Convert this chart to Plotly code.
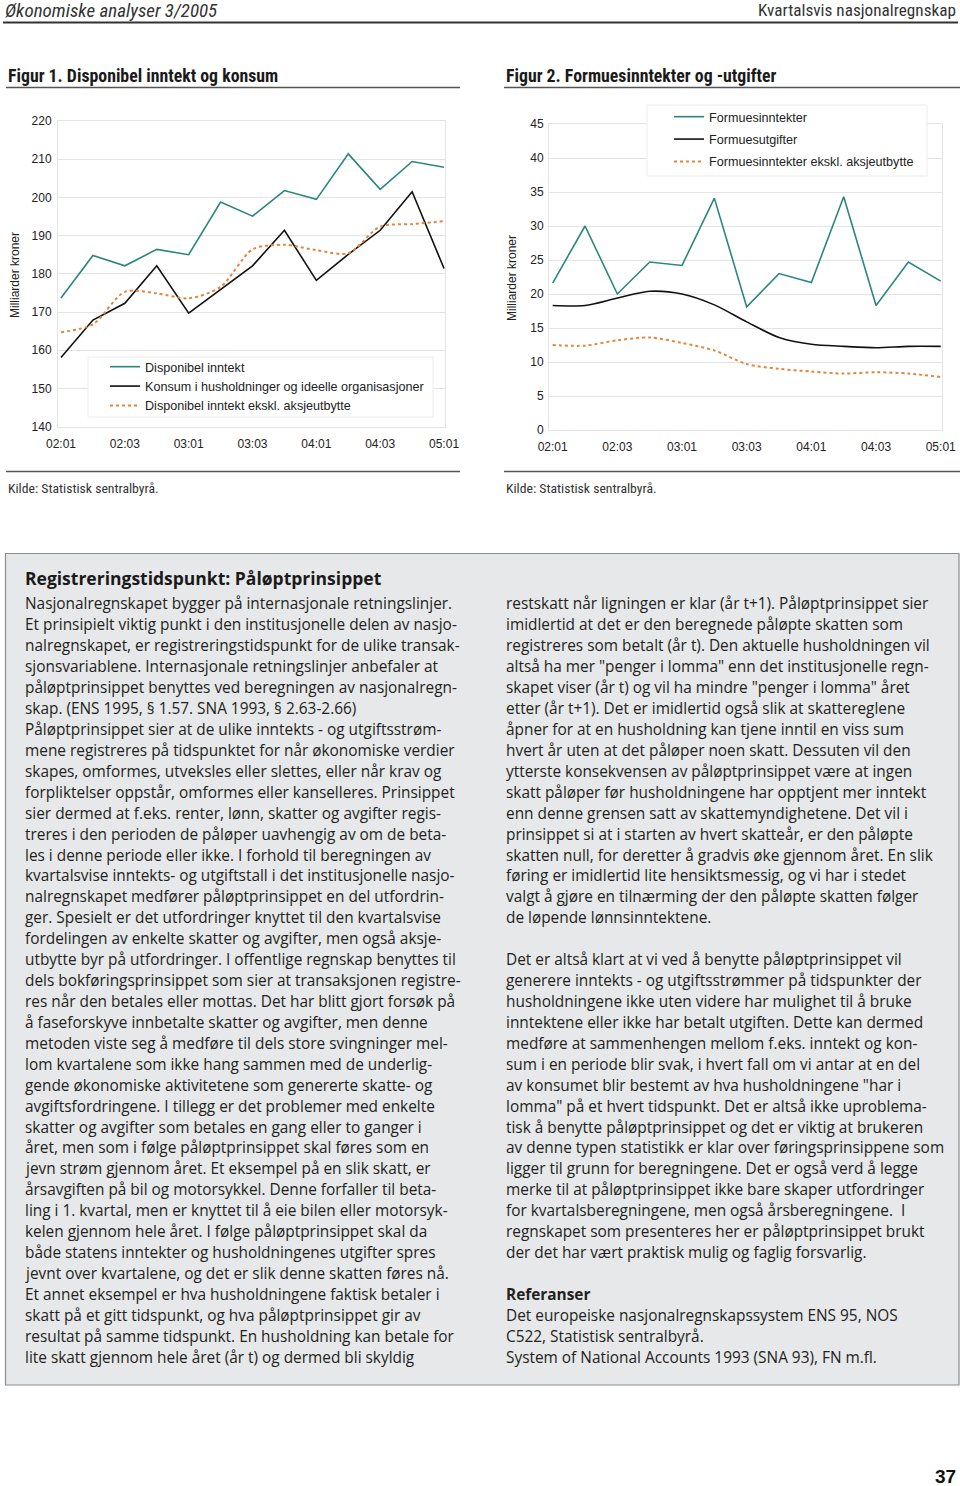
import plotly.graph_objects as go

# ---------------- data ----------------
quarters = ["02:01", "02:02", "02:03", "02:04", "03:01", "03:02", "03:03",
            "03:04", "04:01", "04:02", "04:03", "04:04", "05:01"]
tick_quarters = ["02:01", "02:03", "03:01", "03:03", "04:01", "04:03", "05:01"]

disp_inntekt = [173.7, 184.8, 182.1, 186.4, 185.0, 198.8, 195.1, 201.8, 199.5, 211.4, 202.1, 209.4, 207.9]
konsum = [158.1, 167.9, 172.3, 182.1, 169.7, 175.8, 182.1, 191.4, 178.3, 185.1, 191.4, 201.5, 181.4]
disp_ekskl = [164.7, 166.8, 175.3, 174.9, 173.6, 176.6, 186.4, 187.6, 186.2, 185.4, 192.4, 193.0, 193.8]

formues_inn = [21.6, 30.0, 20.0, 24.7, 24.2, 34.1, 18.1, 23.0, 21.7, 34.3, 18.3, 24.7, 21.9]
formues_utg = [18.3, 18.3, 19.4, 20.4, 20.0, 18.4, 15.9, 13.6, 12.6, 12.3, 12.1, 12.3, 12.3]
formues_ekskl = [12.5, 12.4, 13.2, 13.6, 12.8, 11.7, 9.7, 9.0, 8.6, 8.3, 8.5, 8.3, 7.8]

names1 = ["Disponibel inntekt",
          "Konsum i husholdninger og ideelle organisasjoner",
          "Disponibel inntekt ekskl. aksjeutbytte"]
names2 = ["Formuesinntekter", "Formuesutgifter",
          "Formuesinntekter ekskl. aksjeutbytte"]

header_left = "Økonomiske analyser 3/2005"
header_right = "Kvartalsvis nasjonalregnskap"
fig1_title = "Figur 1. Disponibel inntekt og konsum"
fig2_title = "Figur 2. Formuesinntekter og -utgifter"
source_text = "Kilde: Statistisk sentralbyrå."
y_title = "Milliarder kroner"
box_title = "Registreringstidspunkt: Påløptprinsippet"

left_lines = [
    "Nasjonalregnskapet bygger på internasjonale retningslinjer.",
    "Et prinsipielt viktig punkt i den institusjonelle delen av nasjo-",
    "nalregnskapet, er registreringstidspunkt for de ulike transak-",
    "sjonsvariablene. Internasjonale retningslinjer anbefaler at",
    "påløptprinsippet benyttes ved beregningen av nasjonalregn-",
    "skap. (ENS 1995, § 1.57. SNA 1993, § 2.63-2.66)",
    "Påløptprinsippet sier at de ulike inntekts - og utgiftsstrøm-",
    "mene registreres på tidspunktet for når økonomiske verdier",
    "skapes, omformes, utveksles eller slettes, eller når krav og",
    "forpliktelser oppstår, omformes eller kanselleres. Prinsippet",
    "sier dermed at f.eks. renter, lønn, skatter og avgifter regis-",
    "treres i den perioden de påløper uavhengig av om de beta-",
    "les i denne periode eller ikke. I forhold til beregningen av",
    "kvartalsvise inntekts- og utgiftstall i det institusjonelle nasjo-",
    "nalregnskapet medfører påløptprinsippet en del utfordrin-",
    "ger. Spesielt er det utfordringer knyttet til den kvartalsvise",
    "fordelingen av enkelte skatter og avgifter, men også aksje-",
    "utbytte byr på utfordringer. I offentlige regnskap benyttes til",
    "dels bokføringsprinsippet som sier at transaksjonen registre-",
    "res når den betales eller mottas. Det har blitt gjort forsøk på",
    "å faseforskyve innbetalte skatter og avgifter, men denne",
    "metoden viste seg å medføre til dels store svingninger mel-",
    "lom kvartalene som ikke hang sammen med de underlig-",
    "gende økonomiske aktivitetene som genererte skatte- og",
    "avgiftsfordringene. I tillegg er det problemer med enkelte",
    "skatter og avgifter som betales en gang eller to ganger i",
    "året, men som i følge påløptprinsippet skal føres som en",
    "jevn strøm gjennom året. Et eksempel på en slik skatt, er",
    "årsavgiften på bil og motorsykkel. Denne forfaller til beta-",
    "ling i 1. kvartal, men er knyttet til å eie bilen eller motorsyk-",
    "kelen gjennom hele året. I følge påløptprinsippet skal da",
    "både statens inntekter og husholdningenes utgifter spres",
    "jevnt over kvartalene, og det er slik denne skatten føres nå.",
    "Et annet eksempel er hva husholdningene faktisk betaler i",
    "skatt på et gitt tidspunkt, og hva påløptprinsippet gir av",
    "resultat på samme tidspunkt. En husholdning kan betale for",
    "lite skatt gjennom hele året (år t) og dermed bli skyldig",
]

right_lines = [
    "restskatt når ligningen er klar (år t+1). Påløptprinsippet sier",
    "imidlertid at det er den beregnede påløpte skatten som",
    "registreres som betalt (år t). Den aktuelle husholdningen vil",
    "altså ha mer \"penger i lomma\" enn det institusjonelle regn-",
    "skapet viser (år t) og vil ha mindre \"penger i lomma\" året",
    "etter (år t+1). Det er imidlertid også slik at skattereglene",
    "åpner for at en husholdning kan tjene inntil en viss sum",
    "hvert år uten at det påløper noen skatt. Dessuten vil den",
    "ytterste konsekvensen av påløptprinsippet være at ingen",
    "skatt påløper før husholdningene har opptjent mer inntekt",
    "enn denne grensen satt av skattemyndighetene. Det vil i",
    "prinsippet si at i starten av hvert skatteår, er den påløpte",
    "skatten null, for deretter å gradvis øke gjennom året. En slik",
    "føring er imidlertid lite hensiktsmessig, og vi har i stedet",
    "valgt å gjøre en tilnærming der den påløpte skatten følger",
    "de løpende lønnsinntektene.",
    "",
    "Det er altså klart at vi ved å benytte påløptprinsippet vil",
    "generere inntekts - og utgiftsstrømmer på tidspunkter der",
    "husholdningene ikke uten videre har mulighet til å bruke",
    "inntektene eller ikke har betalt utgiften. Dette kan dermed",
    "medføre at sammenhengen mellom f.eks. inntekt og kon-",
    "sum i en periode blir svak, i hvert fall om vi antar at en del",
    "av konsumet blir bestemt av hva husholdningene \"har i",
    "lomma\" på et hvert tidspunkt. Det er altså ikke uproblema-",
    "tisk å benytte påløptprinsippet og det er viktig at brukeren",
    "av denne typen statistikk er klar over føringsprinsippene som",
    "ligger til grunn for beregningene. Det er også verd å legge",
    "merke til at påløptprinsippet ikke bare skaper utfordringer",
    "for kvartalsberegningene, men også årsberegningene.  I",
    "regnskapet som presenteres her er påløptprinsippet brukt",
    "der det har vært praktisk mulig og faglig forsvarlig.",
    "",
    "<b>Referanser</b>",
    "Det europeiske nasjonalregnskapssystem ENS 95, NOS",
    "C522, Statistisk sentralbyrå.",
    "System of National Accounts 1993 (SNA 93), FN m.fl.",
]
page_number = "37"

# ---------------- helpers ----------------
W, H = 960, 1486


def fx(px):
    return px / W


def fy(py):
    return 1 - py / H


TEAL = "#2b877b"
ORANGE = "#e5853d"
BLACK = "#111111"
GRID = "#e4e4e4"
CHART_FONT = "Liberation Sans, Arial, sans-serif"
COND_FONT = "Liberation Sans Narrow, Roboto Condensed, Liberation Sans, sans-serif"
BODY_FONT = "Open Sans, Noto Sans, sans-serif"

fig = go.Figure()

# Figure 1 traces
fig.add_trace(go.Scatter(x=quarters, y=disp_inntekt, name=names1[0], mode="lines",
                         line=dict(color=TEAL, width=1.6), xaxis="x", yaxis="y",
                         legend="legend"))
fig.add_trace(go.Scatter(x=quarters, y=konsum, name=names1[1], mode="lines",
                         line=dict(color=BLACK, width=1.6), xaxis="x", yaxis="y",
                         legend="legend"))
fig.add_trace(go.Scatter(x=quarters, y=disp_ekskl, name=names1[2], mode="lines",
                         line=dict(color=ORANGE, width=2, dash="3px,3px",
                                   shape="spline", smoothing=0.8),
                         xaxis="x", yaxis="y", legend="legend"))

# Figure 2 traces
fig.add_trace(go.Scatter(x=quarters, y=formues_inn, name=names2[0], mode="lines",
                         line=dict(color=TEAL, width=1.6), xaxis="x2", yaxis="y2",
                         legend="legend2", legendgroup="a"))
fig.add_trace(go.Scatter(x=quarters, y=formues_utg, name=names2[1], mode="lines",
                         line=dict(color=BLACK, width=1.6, shape="spline", smoothing=0.8),
                         xaxis="x2", yaxis="y2", legend="legend2", legendgroup="b"))
fig.add_trace(go.Scatter(x=quarters, y=formues_ekskl, name=names2[2], mode="lines",
                         line=dict(color=ORANGE, width=2, dash="3px,3px",
                                   shape="spline", smoothing=0.8),
                         xaxis="x2", yaxis="y2", legend="legend2", legendgroup="c"))

tickfont = dict(family=CHART_FONT, size=12, color="#222222")
common_x = dict(type="category", tickvals=tick_quarters, ticktext=tick_quarters,
                showgrid=False, zeroline=False, showline=True, linecolor=GRID,
                linewidth=1, mirror=True, ticks="outside", ticklen=6,
                tickcolor="rgba(0,0,0,0)", tickfont=tickfont, fixedrange=True,
                automargin=False)
common_y = dict(showgrid=True, gridcolor=GRID, gridwidth=1, zeroline=False,
                showline=True, linecolor=GRID, mirror=True, ticks="outside",
                tickcolor="rgba(0,0,0,0)", tickfont=tickfont,
                fixedrange=True, automargin=False)

fig.update_layout(
    template="none",
    width=W, height=H, autosize=False,
    margin=dict(l=0, r=0, t=0, b=0, pad=0, autoexpand=False),
    paper_bgcolor="white", plot_bgcolor="white",
    xaxis=dict(domain=[fx(58), fx(445)], range=[-0.094, 12.03], anchor="y", **common_x),
    yaxis=dict(domain=[fy(426.7), fy(121)], range=[140, 220], dtick=10, anchor="x",
               ticklen=3, **common_y),
    xaxis2=dict(domain=[fx(549), fx(942)], range=[-0.114, 12.04], anchor="y2", **common_x),
    yaxis2=dict(domain=[fy(430), fy(124)], range=[0, 45], dtick=5, anchor="x2",
                ticklen=2, **common_y),
    legend=dict(x=fx(105), y=fy(352), xanchor="left", yanchor="top",
                bgcolor="rgba(0,0,0,0)", borderwidth=0, itemwidth=30,
                font=dict(family=CHART_FONT, size=12.6, color="#222222"),
                traceorder="normal"),
    legend2=dict(x=fx(669), y=fy(102), xanchor="left", yanchor="top",
                 bgcolor="rgba(0,0,0,0)", borderwidth=0, itemwidth=30,
                 tracegroupgap=3,
                 font=dict(family=CHART_FONT, size=12.6, color="#222222"),
                 traceorder="grouped"),
    showlegend=True,
)

shapes = []
# header rule
shapes.append(dict(type="line", xref="paper", yref="paper", x0=fx(3), x1=fx(958),
                   y0=fy(22.5), y1=fy(22.5), line=dict(color="#333333", width=2)))
# figure rules
for (a, b) in [(6, 460), (504, 960)]:
    for py in (87.5, 471.5):
        shapes.append(dict(type="line", xref="paper", yref="paper", x0=fx(a), x1=fx(b),
                           y0=fy(py), y1=fy(py), line=dict(color="#555555", width=1.5)))
# legend boxes (white, faint border)
shapes.append(dict(type="rect", xref="paper", yref="paper", x0=fx(88), x1=fx(433),
                   y0=fy(417), y1=fy(357), fillcolor="white",
                   line=dict(color="#ececec", width=1), layer="above"))
shapes.append(dict(type="rect", xref="paper", yref="paper", x0=fx(647), x1=fx(927),
                   y0=fy(176), y1=fy(105), fillcolor="white",
                   line=dict(color="#ececec", width=1), layer="above"))
# grey text box
shapes.append(dict(type="rect", xref="paper", yref="paper", x0=fx(5.5), x1=fx(959),
                   y0=fy(1385), y1=fy(553.5), fillcolor="#e7e8ea",
                   line=dict(color="#8c8c8c", width=1.2), layer="below"))

ann = []


def text(px, py, s, size, family, xanchor="left", bold=False, italic=False,
         color="#222222", angle=0):
    t = s
    if bold:
        t = "<b>" + t + "</b>"
    if italic:
        t = "<i>" + t + "</i>"
    ann.append(dict(x=fx(px), y=fy(py), xref="paper", yref="paper", text=t,
                    showarrow=False, xanchor=xanchor, yanchor="middle",
                    textangle=angle, font=dict(family=family, size=size, color=color)))


text(3, 10, header_left, 19, COND_FONT, italic=True, color="#333333")
text(958, 10, header_right, 17.2, COND_FONT, xanchor="right", color="#333333")
text(6, 75, fig1_title, 17.8, COND_FONT, bold=True, color="#1a1a1a")
text(504, 75, fig2_title, 17.8, COND_FONT, bold=True, color="#1a1a1a")
text(6, 488, source_text, 13.7, COND_FONT, color="#333333")
text(504, 488, source_text, 13.7, COND_FONT, color="#333333")
text(15, 275, y_title, 12, CHART_FONT, xanchor="center", angle=-90)
text(512, 278, y_title, 12, CHART_FONT, xanchor="center", angle=-90)

text(23, 578, box_title, 17.5, BODY_FONT, bold=True, color="#1a1a1a")

LINE = 20.92
for i, s in enumerate(left_lines):
    text(23, 604 + i * LINE, s, 15.4, BODY_FONT, color="#231f20")
for i, s in enumerate(right_lines):
    if s:
        text(504, 604 + i * LINE, s, 15.4, BODY_FONT, color="#231f20")

text(958, 1476, page_number, 19, CHART_FONT, xanchor="right", bold=True, color="#111111")

fig.update_layout(shapes=shapes, annotations=ann)

# remove the default 8px page margin so the 960x1486 figure fills the window
fig.write_html("out.html",
               config={"displayModeBar": False},
               post_script="document.body.style.margin='0px';"
                           "document.body.style.padding='0px';")
